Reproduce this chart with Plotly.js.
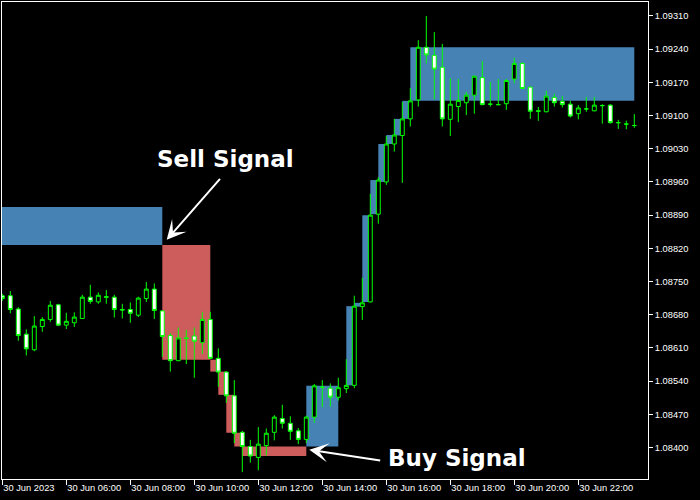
<!DOCTYPE html>
<html>
<head>
<meta charset="utf-8">
<script src="https://cdn.plot.ly/plotly-3.0.1.min.js"></script>
<style>
  html, body { margin: 0; padding: 0; background: #000; }
  #chart { width: 700px; height: 500px; }
</style>
</head>
<body>
<div id="chart"></div>
<script>
// EURUSD M15, 30 Jun 2023
const day = '2023-06-30';

const barTimes = [
  '04:00','04:15','04:30','04:45','05:00','05:15','05:30','05:45',
  '06:00','06:15','06:30','06:45','07:00','07:15','07:30','07:45',
  '08:00','08:15','08:30','08:45','09:00','09:15','09:30','09:45',
  '10:00','10:15','10:30','10:45','11:00','11:15','11:30','11:45',
  '12:00','12:15','12:30','12:45','13:00','13:15','13:30','13:45',
  '14:00','14:15','14:30','14:45','15:00','15:15','15:30','15:45',
  '16:00','16:15','16:30','16:45','17:00','17:15','17:30','17:45',
  '18:00','18:15','18:30','18:45','19:00','19:15','19:30','19:45',
  '20:00','20:15','20:30','20:45','21:00','21:15','21:30','21:45',
  '22:00','22:15','22:30','22:45','23:00','23:15','23:30','23:45'
];

const open = [
  1.08720,1.08720,1.08692,1.08639,1.08606,1.08655,1.08670,1.08701,1.08658,1.08663,
  1.08672,1.08717,1.08707,1.08718,1.08717,1.08691,1.08691,1.08679,1.08714,1.08734,
  1.08688,1.08636,1.08583,1.08631,1.08635,1.08621,1.08670,1.08588,1.08559,1.08509,
  1.08432,1.08402,1.08379,1.08404,1.08432,1.08461,1.08451,1.08435,1.08417,1.08464,
  1.08527,1.08525,1.08506,1.08524,1.08531,1.08697,1.08707,1.08892,1.08960,1.09040,
  1.09058,1.09093,1.09133,1.09244,1.09227,1.09202,1.09092,1.09119,1.09127,1.09143,
  1.09180,1.09124,1.09123,1.09125,1.09177,1.09210,1.09160,1.09110,1.09108,1.09138,
  1.09130,1.09124,1.09104,1.09114,1.09110,1.09121,1.09122,1.09085,1.09082,1.09079
];
const high = [
  1.08724,1.08730,1.08696,1.08649,1.08677,1.08675,1.08709,1.08703,1.08684,1.08685,
  1.08722,1.08743,1.08727,1.08732,1.08722,1.08703,1.08706,1.08718,1.08749,1.08746,
  1.08689,1.08641,1.08653,1.08648,1.08653,1.08686,1.08686,1.08609,1.08561,1.08542,
  1.08435,1.08416,1.08443,1.08440,1.08468,1.08490,1.08466,1.08441,1.08467,1.08534,
  1.08542,1.08535,1.08547,1.08586,1.08720,1.08758,1.08935,1.08970,1.09057,1.09093,
  1.09129,1.09158,1.09259,1.09310,1.09276,1.09251,1.09179,1.09177,1.09150,1.09184,
  1.09215,1.09171,1.09177,1.09177,1.09222,1.09212,1.09161,1.09118,1.09152,1.09146,
  1.09141,1.09131,1.09122,1.09139,1.09139,1.09124,1.09124,1.09091,1.09089,1.09103
];
const low = [
  1.08709,1.08683,1.08625,1.08594,1.08603,1.08644,1.08665,1.08656,1.08650,1.08654,
  1.08671,1.08703,1.08703,1.08703,1.08674,1.08672,1.08663,1.08675,1.08707,1.08671,
  1.08591,1.08560,1.08582,1.08576,1.08547,1.08597,1.08587,1.08528,1.08494,1.08409,
  1.08348,1.08368,1.08352,1.08383,1.08415,1.08440,1.08416,1.08407,1.08409,1.08452,
  1.08485,1.08486,1.08499,1.08515,1.08525,1.08669,1.08706,1.08872,1.08954,1.09024,
  1.08958,1.09077,1.09119,1.09210,1.09134,1.09077,1.09057,1.09086,1.09101,1.09104,
  1.09122,1.09119,1.09122,1.09112,1.09168,1.09156,1.09093,1.09089,1.09107,1.09119,
  1.09117,1.09096,1.09092,1.09108,1.09109,1.09083,1.09083,1.09072,1.09071,1.09074
];
const close = [
  1.08714,1.08691,1.08636,1.08608,1.08656,1.08670,1.08700,1.08658,1.08666,1.08675,
  1.08717,1.08708,1.08721,1.08717,1.08691,1.08690,1.08683,1.08715,1.08734,1.08689,
  1.08634,1.08583,1.08631,1.08630,1.08624,1.08670,1.08588,1.08559,1.08509,1.08430,
  1.08402,1.08382,1.08407,1.08430,1.08464,1.08451,1.08434,1.08417,1.08464,1.08530,
  1.08527,1.08506,1.08526,1.08531,1.08698,1.08705,1.08890,1.08964,1.09040,1.09059,
  1.09093,1.09131,1.09244,1.09228,1.09198,1.09093,1.09124,1.09132,1.09143,1.09183,
  1.09123,1.09124,1.09123,1.09174,1.09210,1.09157,1.09109,1.09109,1.09141,1.09127,
  1.09123,1.09099,1.09116,1.09114,1.09122,1.09121,1.09085,1.09085,1.09082,1.09079
];

// Signal zones: time span and price band of each block
const zoneFrom = ['03:45','09:00','10:30','10:45','11:00','11:15','11:30','13:30','14:45',
                  '15:00','15:15','15:30','15:45','16:00','16:15','16:30','16:45'];
const zoneTo   = ['09:00','10:30','10:45','11:00','11:15','11:30','13:30','14:30','15:00',
                  '15:15','15:30','15:45','16:00','16:15','16:30','16:45','23:45'];
const zoneHigh = [1.08907,1.08827,1.08585,1.08560,1.08511,1.08431,1.08402,1.08530,1.08698,
                  1.08705,1.08890,1.08964,1.09040,1.09059,1.09093,1.09131,1.09244];
const zoneLow  = [1.08827,1.08585,1.08560,1.08511,1.08431,1.08402,1.08382,1.08402,1.08531,
                  1.08697,1.08707,1.08892,1.08960,1.09040,1.09058,1.09093,1.09131];
const zoneSide = ['buy','sell','sell','sell','sell','sell','sell','buy','buy',
                  'buy','buy','buy','buy','buy','buy','buy','buy'];

// Time-axis labels
const timeTicks = ['04:00','06:00','08:00','10:00','12:00','14:00','16:00','18:00','20:00','22:00'];
const timeTickText = ['30 Jun 2023','30 Jun 06:00','30 Jun 08:00','30 Jun 10:00','30 Jun 12:00',
                      '30 Jun 14:00','30 Jun 16:00','30 Jun 18:00','30 Jun 20:00','30 Jun 22:00'];

// Price-axis labels
const priceTicks = ['1.08400','1.08470','1.08540','1.08610','1.08680','1.08750','1.08820',
                    '1.08890','1.08960','1.09030','1.09100','1.09170','1.09240','1.09310'];

const stamp = t => day + ' ' + t;
const sideColor = { buy: '#4682B4', sell: '#CD5C5C' };
const WHITE = '#FFFFFF';
const LIME = '#00FF00';
const axisFont = { family: 'Liberation Sans, Arial, sans-serif', size: 9.3, color: WHITE };
const signalFont = { family: 'DejaVu Sans, Verdana, sans-serif', size: 23, color: WHITE, weight: 'bold' };

const candles = {
  type: 'candlestick',
  x: barTimes.map(stamp),
  open: open, high: high, low: low, close: close,
  increasing: { line: { color: LIME, width: 1 }, fillcolor: '#000000' },
  decreasing: { line: { color: LIME, width: 1 }, fillcolor: WHITE },
  whiskerwidth: 0,
  hoverinfo: 'skip'
};

const zones = zoneFrom.map((t, i) => ({
  type: 'rect', layer: 'below', xref: 'x', yref: 'y',
  x0: stamp(t), x1: stamp(zoneTo[i]),
  y0: zoneLow[i], y1: zoneHigh[i],
  fillcolor: sideColor[zoneSide[i]], line: { width: 0 }
}));

const arrow = (tip, tipY, tail, tailY) => ({
  xref: 'x', yref: 'y', axref: 'x', ayref: 'y',
  x: stamp(tip), y: tipY, ax: stamp(tail), ay: tailY,
  text: ' ', font: { size: 1 }, showarrow: true,
  arrowhead: 3, arrowsize: 1.6, arrowwidth: 2, arrowcolor: WHITE,
  standoff: 0, startstandoff: 0
});

const label = (text, t, y) => ({
  xref: 'x', yref: 'y', x: stamp(t), y: y, text: text,
  showarrow: false, xanchor: 'center', yanchor: 'middle', font: signalFont
});

const layout = {
  width: 700, height: 500,
  paper_bgcolor: '#000000', plot_bgcolor: '#000000',
  margin: { l: 2, r: 52, t: 2, b: 21, pad: 0 },
  showlegend: false,
  xaxis: {
    type: 'date',
    range: [stamp('03:59:26'), '2023-07-01 00:10:41'],
    rangeslider: { visible: false },
    tickvals: timeTicks.map(stamp), ticktext: timeTickText,
    ticks: 'outside', ticklen: 5, tickwidth: 1, tickcolor: WHITE,
    ticklabelposition: 'outside right',
    tickfont: axisFont,
    showgrid: false, zeroline: false,
    showline: true, linecolor: WHITE, linewidth: 1, mirror: true,
    fixedrange: true
  },
  yaxis: {
    side: 'right',
    range: [1.083335, 1.093395],
    tickvals: priceTicks.map(Number), ticktext: priceTicks,
    ticks: 'outside', ticklen: 4, tickwidth: 1, tickcolor: WHITE,
    tickfont: axisFont,
    showgrid: false, zeroline: false,
    showline: true, linecolor: WHITE, linewidth: 1, mirror: true,
    fixedrange: true
  },
  shapes: zones,
  annotations: [
    arrow('09:08:15', 1.08838, '10:51:00', 1.08970),
    label('Sell Signal', '10:59:24', 1.09009),
    arrow('13:35:37', 1.08395, '15:51:22', 1.08372),
    label('Buy Signal', '18:12:36', 1.08378)
  ]
};

Plotly.newPlot('chart', [candles], layout, { displayModeBar: false, staticPlot: true });
</script>
</body>
</html>
